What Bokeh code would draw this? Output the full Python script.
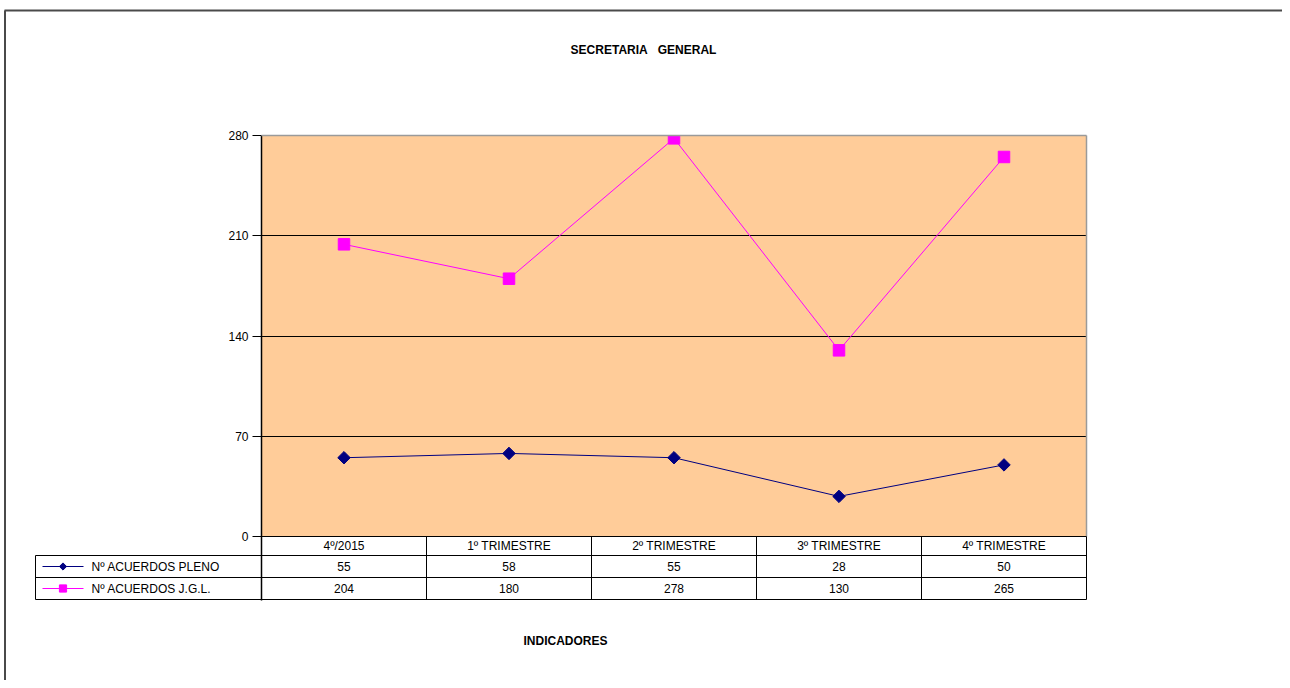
import numpy as np
from bokeh.plotting import figure
from bokeh.models import Range1d, FixedTicker
from bokeh.core.properties import value
from bokeh.embed import file_html
from bokeh.resources import INLINE

# ---------------- data ----------------
categories = ["4º/2015", "1º TRIMESTRE", "2º TRIMESTRE", "3º TRIMESTRE", "4º TRIMESTRE"]
pleno = [55, 58, 55, 28, 50]
jgl = [204, 180, 278, 130, 265]
series_names = ["Nº ACUERDOS PLENO", "Nº ACUERDOS J.G.L."]
y_ticks = [0, 70, 140, 210, 280]
chart_title = "SECRETARIA\u00a0\u00a0\u00a0GENERAL"
x_title = "INDICADORES"

# ---------------- layout constants (pixels from the picture's top-left) ----------------
W, H = 1282, 680
FRAME_L, FRAME_R = 261, 1086
FRAME_T, ZERO_Y, FRAME_B = 135, 536, 600
ROW_Y = [536, 555, 577, 599]
LEG_L = 35
YMAX = 280
FONT = "Liberation Sans"
FS = "12px"
NAVY = "#000080"
MAGENTA = "#FF00FF"
PEACH = "#FFCC99"

k = YMAX / (ZERO_Y - FRAME_T)
col_w = (FRAME_R - FRAME_L) / len(categories)


def X(px):
    return (px - FRAME_L) / col_w - 0.5


def Y(py):
    return (ZERO_Y - py) * k


xs = list(range(len(categories)))

p = figure(
    width=W, height=H,
    x_range=Range1d(-0.5, len(categories) - 0.5),
    y_range=Range1d(Y(FRAME_B), YMAX),
    output_backend="svg", toolbar_location=None,
    x_axis_location=None,
    min_border_left=FRAME_L,
    min_border_right=W - FRAME_R,
    min_border_top=FRAME_T,
    min_border_bottom=H - FRAME_B,
)
p.outline_line_color = None
p.background_fill_color = "white"
p.border_fill_color = "white"
p.xgrid.visible = False
p.ygrid.ticker = FixedTicker(ticks=[t for t in y_ticks if 0 < t < YMAX])
p.ygrid.grid_line_color = "black"
p.ygrid.grid_line_alpha = 1.0
p.ygrid.grid_line_width = 1

ax = p.yaxis[0]
ax.ticker = FixedTicker(ticks=y_ticks)
ax.minor_tick_line_color = None
ax.major_tick_in = 0
ax.major_tick_out = 9
ax.major_tick_line_color = "black"
ax.axis_line_color = "black"
ax.axis_line_width = 1.5
ax.major_label_standoff = 4
ax.major_label_text_font = FONT
ax.major_label_text_font_size = FS
ax.major_label_text_color = "black"

# plot area background
p.quad(left=[-0.5], right=[len(categories) - 0.5], bottom=[0], top=[YMAX],
       fill_color=PEACH, line_color=None, level="image")
# plot area grey border (top, right)
p.segment(x0=[-0.5, len(categories) - 0.5], y0=[YMAX, 0],
          x1=[len(categories) - 0.5, len(categories) - 0.5], y1=[YMAX, YMAX],
          line_color="#9a9a9a", line_width=1.5, level="overlay")

# series
p.line(xs, pleno, line_color=NAVY, line_width=1)
p.scatter(xs, pleno, marker="square", angle=np.pi / 4, size=8.8,
          fill_color=NAVY, line_color=NAVY)
p.line(xs, jgl, line_color=MAGENTA, line_width=1)
p.scatter(xs, jgl, marker="square", size=11.5, fill_color=MAGENTA, line_color=MAGENTA)

# ---------------- data table ----------------
xl = X(LEG_L)
xr = len(categories) - 0.5
ry = [Y(v) for v in ROW_Y]
hx0, hy0, hx1, hy1 = [], [], [], []
hx0 += [-0.5, xl, xl, xl]
hx1 += [xr, xr, xr, xr]
hy0 += ry
hy1 += ry
for i in range(len(categories) + 1):
    hx0.append(i - 0.5); hx1.append(i - 0.5)
    hy0.append(ry[0]); hy1.append(ry[3])
hx0.append(xl); hx1.append(xl); hy0.append(ry[1]); hy1.append(ry[3])
p.segment(x0=hx0, y0=hy0, x1=hx1, y1=hy1, line_color="black", line_width=1, level="overlay")

row_px = [(ROW_Y[0] + ROW_Y[1]) / 2, (ROW_Y[1] + ROW_Y[2]) / 2, (ROW_Y[2] + ROW_Y[3]) / 2]
row_c = [Y(v) for v in row_px]
txt = dict(text_font=value(FONT), text_font_size=value(FS), text_color="black",
           text_align="center", text_baseline="middle", level="overlay")
p.text(x=xs, y=[row_c[0]] * len(xs), text=categories, **txt)
p.text(x=xs, y=[row_c[1]] * len(xs), text=[str(v) for v in pleno], **txt)
p.text(x=xs, y=[row_c[2]] * len(xs), text=[str(v) for v in jgl], **txt)

# legend keys in the table
KX0, KX1, KM, LX = 42, 83, 62.5, 91
p.segment(x0=[X(KX0)], y0=[row_c[1]], x1=[X(KX1)], y1=[row_c[1]], line_color=NAVY, level="overlay")
d = 3.6
p.patch(x=[X(KM - d), X(KM), X(KM + d), X(KM)],
        y=[row_c[1], Y(row_px[1] - d), row_c[1], Y(row_px[1] + d)],
        fill_color=NAVY, line_color=NAVY, level="overlay")
p.segment(x0=[X(KX0)], y0=[row_c[2]], x1=[X(KX1)], y1=[row_c[2]], line_color=MAGENTA, level="overlay")
s = 3.6
p.patch(x=[X(KM - s), X(KM + s), X(KM + s), X(KM - s)],
        y=[Y(row_px[2] - s), Y(row_px[2] - s), Y(row_px[2] + s), Y(row_px[2] + s)],
        fill_color=MAGENTA, line_color=MAGENTA, level="overlay")
p.text(x=[X(LX), X(LX)], y=[row_c[1], row_c[2]], text=series_names,
       text_font=value(FONT), text_font_size=value(FS), text_color="black",
       text_align="left", text_baseline="middle", level="overlay")

# titles
p.text(x=[X(643)], y=[Y(49)], text=[chart_title], text_font=value(FONT),
       text_font_size=value(FS), text_font_style="bold", text_color="black",
       text_align="center", text_baseline="middle", level="overlay")
p.text(x=[X(565)], y=[Y(640)], text=[x_title], text_font=value(FONT),
       text_font_size=value(FS), text_font_style="bold", text_color="black",
       text_align="center", text_baseline="middle", level="overlay")

# outer chart border (top, left)
p.segment(x0=[X(4), X(4.5)], y0=[Y(10), Y(10)], x1=[X(W), X(4.5)], y1=[Y(10), Y(H)],
          line_color="#4a4a4a", line_width=2, level="overlay")

open("out.html", "w").write(file_html(p, INLINE))
